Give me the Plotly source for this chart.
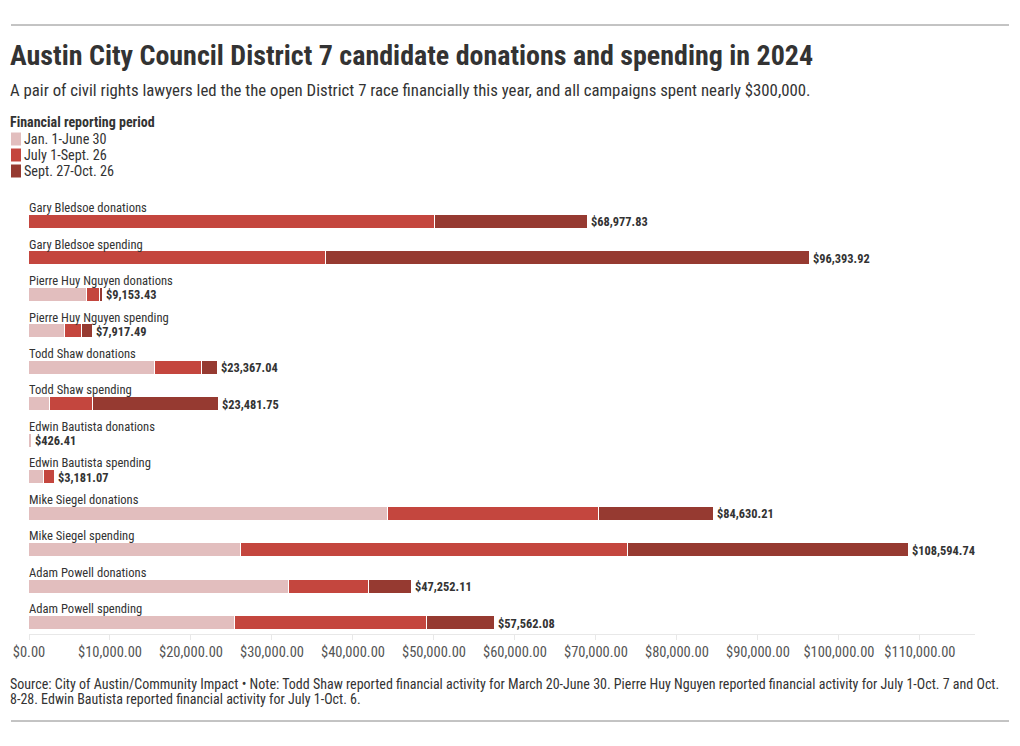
import plotly.graph_objects as go

categories = [
    "Gary Bledsoe donations", "Gary Bledsoe spending",
    "Pierre Huy Nguyen donations", "Pierre Huy Nguyen spending",
    "Todd Shaw donations", "Todd Shaw spending",
    "Edwin Bautista donations", "Edwin Bautista spending",
    "Mike Siegel donations", "Mike Siegel spending",
    "Adam Powell donations", "Adam Powell spending",
]
jan_june = [0, 0, 7200, 4450, 15550, 2600, 426.41, 1850, 44300, 26200, 32100, 25400]
july_sept = [50100, 36700, 1550, 2100, 5800, 5300, 0, 1331.07, 26100, 47750, 9900, 23700]
totals = [68977.83, 96393.92, 9153.43, 7917.49, 23367.04, 23481.75, 426.41, 3181.07,
          84630.21, 108594.74, 47252.11, 57562.08]
sept_oct = [round(t - a - b, 2) for t, a, b in zip(totals, jan_june, july_sept)]
total_labels = ["$68,977.83", "$96,393.92", "$9,153.43", "$7,917.49", "$23,367.04",
                "$23,481.75", "$426.41", "$3,181.07", "$84,630.21", "$108,594.74",
                "$47,252.11", "$57,562.08"]
series_names = ["Jan. 1-June 30", "July 1-Sept. 26", "Sept. 27-Oct. 26"]
series_colors = ["#e2bebe", "#c4463e", "#963a31"]
tick_vals = [0, 10000, 20000, 30000, 40000, 50000, 60000, 70000, 80000, 90000, 100000, 110000]
tick_text = ["$0.00", "$10,000.00", "$20,000.00", "$30,000.00", "$40,000.00", "$50,000.00",
             "$60,000.00", "$70,000.00", "$80,000.00", "$90,000.00", "$100,000.00", "$110,000.00"]

FONT = "Roboto Condensed, Liberation Sans Narrow, DejaVu Sans Condensed, Roboto, sans-serif"
W, H = 1020, 746
L, R, T, B = 29, 975, 189, 634

def px(x):
    return (x - L) / (R - L)

def py(y):
    return (B - y) / (B - T)

rows = list(range(len(categories)))
fig = go.Figure()
for name, vals, col in zip(series_names, [jan_june, july_sept, sept_oct], series_colors):
    fig.add_trace(go.Bar(
        x=vals, y=rows, orientation="h", name=name, width=0.385,
        marker=dict(color=col, line=dict(color="white", width=1.2)),
        hoverinfo="skip",
    ))

ann = []
for i, (cat, tot, lab) in enumerate(zip(categories, totals, total_labels)):
    ann.append(dict(x=0, y=i - 0.39, xref="x", yref="y", text=cat, showarrow=False,
                    xanchor="left", yanchor="middle", xshift=-2,
                    font=dict(family=FONT, size=12.6, color="#333")))
    ann.append(dict(x=tot, y=i, xref="x", yref="y", text="<b>" + lab + "</b>", showarrow=False,
                    xanchor="left", yanchor="middle", xshift=1,
                    font=dict(family=FONT, size=12.4, color="#333")))

def text_ann(x, y, text, size, bold=False, color="#333"):
    return dict(x=px(x), y=py(y), xref="paper", yref="paper", showarrow=False,
                xanchor="left", yanchor="middle", align="left",
                text=("<b>%s</b>" % text) if bold else text,
                font=dict(family=FONT, size=size, color=color))

ann.append(text_ann(8, 56, "Austin City Council District 7 candidate donations and spending in 2024", 28, True))
ann.append(text_ann(8, 90, "A pair of civil rights lawyers led the the open District 7 race financially this year, and all campaigns spent nearly $300,000.", 16.8))
ann.append(text_ann(8, 122, "Financial reporting period", 14, True))
ann.append(text_ann(8, 684, "Source: City of Austin/Community Impact • Note: Todd Shaw reported financial activity for March 20-June 30. Pierre Huy Nguyen reported financial activity for July 1-Oct. 7 and Oct.", 14))
ann.append(text_ann(8, 699, "8-28. Edwin Bautista reported financial activity for July 1-Oct. 6.", 14))

shapes = [
    dict(type="line", xref="paper", yref="paper", x0=px(11), x1=px(1009), y0=py(25), y1=py(25),
         line=dict(color="#888", width=1)),
    dict(type="line", xref="paper", yref="paper", x0=px(11), x1=px(1009), y0=py(721), y1=py(721),
         line=dict(color="#888", width=1)),
]

# legend (manual, to match compact spacing)
for k, (name, col) in enumerate(zip(series_names, series_colors)):
    cy = 139 + 16 * k
    shapes.append(dict(type="rect", xref="paper", yref="paper",
                       x0=px(11), x1=px(21), y0=py(cy - 6.5), y1=py(cy + 6.5),
                       fillcolor=col, line=dict(width=0)))
    ann.append(text_ann(22, cy, name, 14.2))

fig.update_layout(
    width=W, height=H,
    margin=dict(l=L, r=W - R, t=T, b=H - B, autoexpand=False),
    paper_bgcolor="white", plot_bgcolor="white",
    barmode="stack", bargap=0,
    font=dict(family=FONT, size=14, color="#333"),
    annotations=ann, shapes=shapes,
    showlegend=False,
    xaxis=dict(range=[0, 116800], tickvals=tick_vals, ticktext=tick_text, showgrid=False,
               zeroline=False, showline=True, linecolor="#e8e8e8", linewidth=1,
               ticks="outside", ticklen=5, tickcolor="#e8e8e8", tickangle=0,
               tickfont=dict(family=FONT, size=14.5, color="#555"), fixedrange=True),
    yaxis=dict(range=[11.3, -0.9], showticklabels=False, showgrid=False, zeroline=False,
               showline=False, fixedrange=True),
)

fig.write_html("out.html")
